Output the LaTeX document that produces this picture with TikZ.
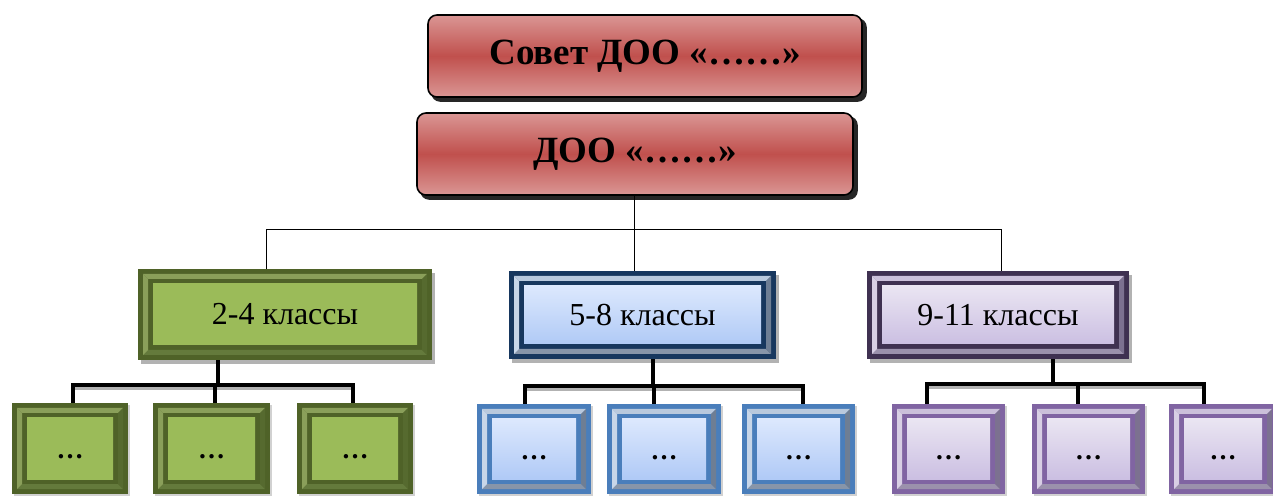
\documentclass[tikz,border=0pt]{standalone}
\usepackage{fontspec}
\setmainfont{Liberation Serif}
\usetikzlibrary{calc}
\pgfdeclarelayer{bg}
\pgfdeclarelayer{conn}
\pgfsetlayers{bg,conn,main}
% red
\definecolor{redL}{HTML}{DA9694}
\definecolor{redM}{HTML}{C0504D}
% green
\definecolor{gFr}{HTML}{4F6228}
\definecolor{gT}{HTML}{8A9F5A}
\definecolor{gL}{HTML}{8A9F5A}
\definecolor{gR}{HTML}{566A2F}
\definecolor{gB}{HTML}{647A3C}
\definecolor{gI}{HTML}{9BBB59}
% blue
\definecolor{bFr}{HTML}{17375E}
\definecolor{bsFr}{HTML}{4A7EBB}
\definecolor{bT}{HTML}{B9C9DD}
\definecolor{bL}{HTML}{C8D6E8}
\definecolor{bR}{HTML}{6E7E94}
\definecolor{bB}{HTML}{8795A9}
\definecolor{bI1}{HTML}{DCE8FD}
\definecolor{bI2}{HTML}{B0CAF6}
% purple
\definecolor{pFr}{HTML}{3F3151}
\definecolor{psFr}{HTML}{8064A2}
\definecolor{pT}{HTML}{CBC0DA}
\definecolor{pL}{HTML}{D8CFE4}
\definecolor{pR}{HTML}{7C7190}
\definecolor{pB}{HTML}{9B91AC}
\definecolor{pI1}{HTML}{EAE5F2}
\definecolor{pI2}{HTML}{CBBFE2}
\newcommand\bevpaint[7]{%
  \fill[#2] let \p1=(path picture bounding box.south west), \p2=(path picture bounding box.north east) in
    (\x1+5pt,\y2-5pt) -- (\x2-5pt,\y2-5pt) -- (\x2-10pt,\y2-10pt) -- (\x1+10pt,\y2-10pt) -- cycle;
  \fill[#5] let \p1=(path picture bounding box.south west), \p2=(path picture bounding box.north east) in
    (\x1+5pt,\y1+5pt) -- (\x2-5pt,\y1+5pt) -- (\x2-10pt,\y1+10pt) -- (\x1+10pt,\y1+10pt) -- cycle;
  \fill[#3] let \p1=(path picture bounding box.south west), \p2=(path picture bounding box.north east) in
    (\x1+5pt,\y1+5pt) -- (\x1+5pt,\y2-5pt) -- (\x1+10pt,\y2-10pt) -- (\x1+10pt,\y1+10pt) -- cycle;
  \fill[#4] let \p1=(path picture bounding box.south west), \p2=(path picture bounding box.north east) in
    (\x2-5pt,\y1+5pt) -- (\x2-5pt,\y2-5pt) -- (\x2-10pt,\y2-10pt) -- (\x2-10pt,\y1+10pt) -- cycle;
  \shade[top color=#6,bottom color=#7] let \p1=(path picture bounding box.south west), \p2=(path picture bounding box.north east) in
    (\x1+15pt,\y1+15pt) rectangle (\x2-15pt,\y2-15pt);
}
\newcommand\boxshadow[3]{%
  \begin{pgfonlayer}{bg}
    \fill[#2] ($(#1.south west)+(#3)$) rectangle ($(#1.north east)+(#3)$);
  \end{pgfonlayer}}
\tikzset{
  bev/.style n args={7}{rectangle, inner sep=0pt, outer sep=0pt, fill=#1,
     path picture={\bevpaint{#1}{#2}{#3}{#4}{#5}{#6}{#7}}},
  bigtext/.style={font=\fontsize{32}{38}\selectfont},
  dottext/.style={font=\bfseries\fontsize{27}{32}\selectfont, text height=24pt, text depth=4pt},
  greenbox/.style={bev={gFr}{gT}{gL}{gR}{gB}{gI}{gI}},
  bluebig/.style={bev={bFr}{bT}{bL}{bR}{bB}{bI1}{bI2}},
  bluesmall/.style={bev={bsFr}{bT}{bL}{bR}{bB}{bI1}{bI2}},
  purplebig/.style={bev={pFr}{pT}{pL}{pR}{pB}{pI1}{pI2}},
  purplesmall/.style={bev={psFr}{pT}{pL}{pR}{pB}{pI1}{pI2}},
  redbox/.style={rectangle, rounded corners=9pt, draw=black, line width=1.6pt,
     top color=redL, bottom color=redL, middle color=redM, inner sep=0pt,
     font=\bfseries\fontsize{37}{42}\selectfont},
  mainline/.style={draw=black, line width=1pt},
  subline/.style={draw=black, line width=3.5pt},
  subshadow/.style={draw=black!30, line width=3pt, transform canvas={shift={(2pt,-3.5pt)}}},
  bigshadow/.style={fill=black!30},
  smallshadow/.style={fill=black!18},
}
\begin{document}
\begin{tikzpicture}[x=1pt,y=1pt]
\useasboundingbox (0,0) rectangle (1273,495);
% red boxes
\node[redbox, minimum width=434pt, minimum height=82pt] (R1) at (645,439) {Совет ДОО «……»};
\node[redbox, minimum width=436pt, minimum height=82pt] (R2) at (635,341) {ДОО «……»};
\begin{pgfonlayer}{bg}
  \fill[black!85, rounded corners=9pt] ($(R1.south west)+(4,-4)$) rectangle ($(R1.north east)+(4,-4)$);
  \fill[black!85, rounded corners=9pt] ($(R2.south west)+(4,-4)$) rectangle ($(R2.north east)+(4,-4)$);
\end{pgfonlayer}
% level 2
\node[greenbox, bigtext, minimum width=294pt, minimum height=91pt] (G) at (285,180.5) {2-4 классы};
\node[bluebig, bigtext, minimum width=267pt, minimum height=88pt] (B) at (642.5,180) {5-8 классы};
\node[purplebig, bigtext, minimum width=262pt, minimum height=88pt] (P) at (998,180) {9-11 классы};
\boxshadow{G}{bigshadow}{3,-4}
\boxshadow{B}{bigshadow}{3,-4}
\boxshadow{P}{bigshadow}{3,-4}
% level 3
\node[greenbox, dottext, minimum width=116pt, minimum height=91pt] (G1) at (70,46.5) {…};
\node[greenbox, dottext, minimum width=117pt, minimum height=91pt] (G2) at (211.5,46.5) {…};
\node[greenbox, dottext, minimum width=116pt, minimum height=91pt] (G3) at (355,46.5) {…};
\node[bluesmall, dottext, minimum width=114pt, minimum height=90pt] (B1) at (534,46) {…};
\node[bluesmall, dottext, minimum width=114pt, minimum height=90pt] (B2) at (664,46) {…};
\node[bluesmall, dottext, minimum width=113pt, minimum height=90pt] (B3) at (798.5,46) {…};
\node[purplesmall, dottext, minimum width=113pt, minimum height=90pt] (P1) at (948.5,46) {…};
\node[purplesmall, dottext, minimum width=113pt, minimum height=90pt] (P2) at (1088.5,46) {…};
\node[purplesmall, dottext, minimum width=108pt, minimum height=90pt] (P3) at (1223,46) {…};
\foreach \n in {G1,G2,G3,B1,B2,B3,P1,P2,P3}{\boxshadow{\n}{smallshadow}{2,-2}}
% main connectors
\coordinate (jL) at (266,265);
\coordinate (jR) at (1001,265);
\coordinate (jM) at (634,265);
\begin{pgfonlayer}{conn}
\draw[mainline] (R2.south -| jM) -- (jM);
\draw[mainline] (G.north -| jL) -- (jL) -- (jR) -- (P.north -| jR);
\draw[mainline] (jM) -- (B.north -| jM);
\end{pgfonlayer}
% sub connectors
\coordinate (gh) at (218,110);
\coordinate (ga) at (73,110);
\coordinate (gb) at (215,110);
\coordinate (gc) at (353,110);
\coordinate (bh) at (653,109);
\coordinate (ba) at (525,109);
\coordinate (bb) at (654,109);
\coordinate (bc) at (803,109);
\coordinate (ph) at (1053,111);
\coordinate (pa) at (927,111);
\coordinate (pb) at (1078,111);
\coordinate (pc) at (1204,111);
\begin{pgfonlayer}{bg}
\draw[subshadow] (ga) -- (gc);
\draw[subshadow] (ba) -- (bc);
\draw[subshadow] (pa) -- (pc);
\end{pgfonlayer}
\begin{pgfonlayer}{conn}
\draw[subline] (G1.north -| ga) -- (ga) -- (gc) -- (G3.north -| gc);
\draw[subline] (G2.north -| gb) -- (gb);
\draw[subline] (G.south -| gh) -- (gh);
\draw[subline] (B1.north -| ba) -- (ba) -- (bc) -- (B3.north -| bc);
\draw[subline] (B2.north -| bb) -- (bb);
\draw[subline] (B.south -| bh) -- (bh);
\draw[subline] (P1.north -| pa) -- (pa) -- (pc) -- (P3.north -| pc);
\draw[subline] (P2.north -| pb) -- (pb);
\draw[subline] (P.south -| ph) -- (ph);
\end{pgfonlayer}
\end{tikzpicture}
\end{document}
